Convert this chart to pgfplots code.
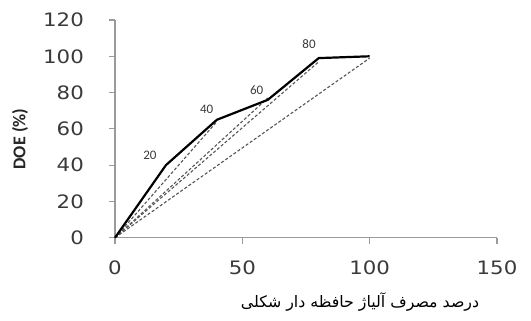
\documentclass[border=0pt]{standalone}
\usepackage{pgfplots}
\pgfplotsset{compat=1.18}
\usepackage{fontspec}
\setmainfont{Carlito}
\newfontfamily\tickfont[FakeStretch=1.15]{DejaVu Sans}
\newfontfamily\arabicfont[Script=Arabic]{DejaVu Sans}
\TeXXeTstate=1
\definecolor{axgray}{HTML}{9A9A9A}
\definecolor{txtgray}{HTML}{3A3A3A}
\definecolor{dashgray}{HTML}{555555}
\begin{document}
\begin{tikzpicture}[x=1bp,y=1bp]
\path[use as bounding box] (0,0) rectangle (531,320);
\begin{axis}[
  at={(115bp,82.3bp)}, anchor=south west,
  scale only axis, width=382bp, height=217.7bp,
  xmin=0, xmax=150, ymin=0, ymax=120,
  axis x line*=bottom, axis y line*=left,
  axis line style={axgray, line width=1.2bp, -},
  xtick={0,50,100,150}, ytick={0,20,40,60,80,100,120},
  tick align=outside, major tick length=6bp,
  tick style={axgray, line width=1.2bp},
  /pgf/number format/assume math mode=true,
  ticklabel style={font=\tickfont\fontsize{18.5bp}{20bp}\selectfont, text=txtgray},
  yticklabel style={anchor=east, inner sep=0pt, xshift=-25bp},
  xticklabel style={anchor=north, inner sep=0pt, yshift=-17bp},
  clip=false,
]
\addplot[dashgray, line width=1.1bp, dash pattern=on 3bp off 2bp] coordinates {(0,0) (40,64)};
\addplot[dashgray, line width=1.1bp, dash pattern=on 3bp off 2bp] coordinates {(0,0) (60,77)};
\addplot[dashgray, line width=1.1bp, dash pattern=on 3bp off 2bp] coordinates {(0,0) (80,97)};
\addplot[dashgray, line width=1.1bp, dash pattern=on 3bp off 2bp] coordinates {(0,0) (100,99)};
\addplot[black, line width=2.2bp, line join=round] coordinates {(0,0) (20,40) (40,65) (60,76) (80,99) (100,100)};
\node[text=txtgray, font=\fontsize{13bp}{15bp}\selectfont] at (axis cs:13.7,45.6) {20};
\node[text=txtgray, font=\fontsize{13bp}{15bp}\selectfont] at (axis cs:36,71) {40};
\node[text=txtgray, font=\fontsize{13bp}{15bp}\selectfont] at (axis cs:55.6,81.3) {60};
\node[text=txtgray, font=\fontsize{13bp}{15bp}\selectfont] at (axis cs:76.2,106.7) {80};
\end{axis}
\node[rotate=90, font=\bfseries\fontsize{18bp}{20bp}\selectfont, text=black!85] at (20,181) {DOE (\%)};
\node[font=\arabicfont\fontsize{15.8bp}{20bp}\selectfont] at (360,18) {\beginR درصد مصرف آلیاژ حافظه دار شکلی\endR};
\end{tikzpicture}
\end{document}
